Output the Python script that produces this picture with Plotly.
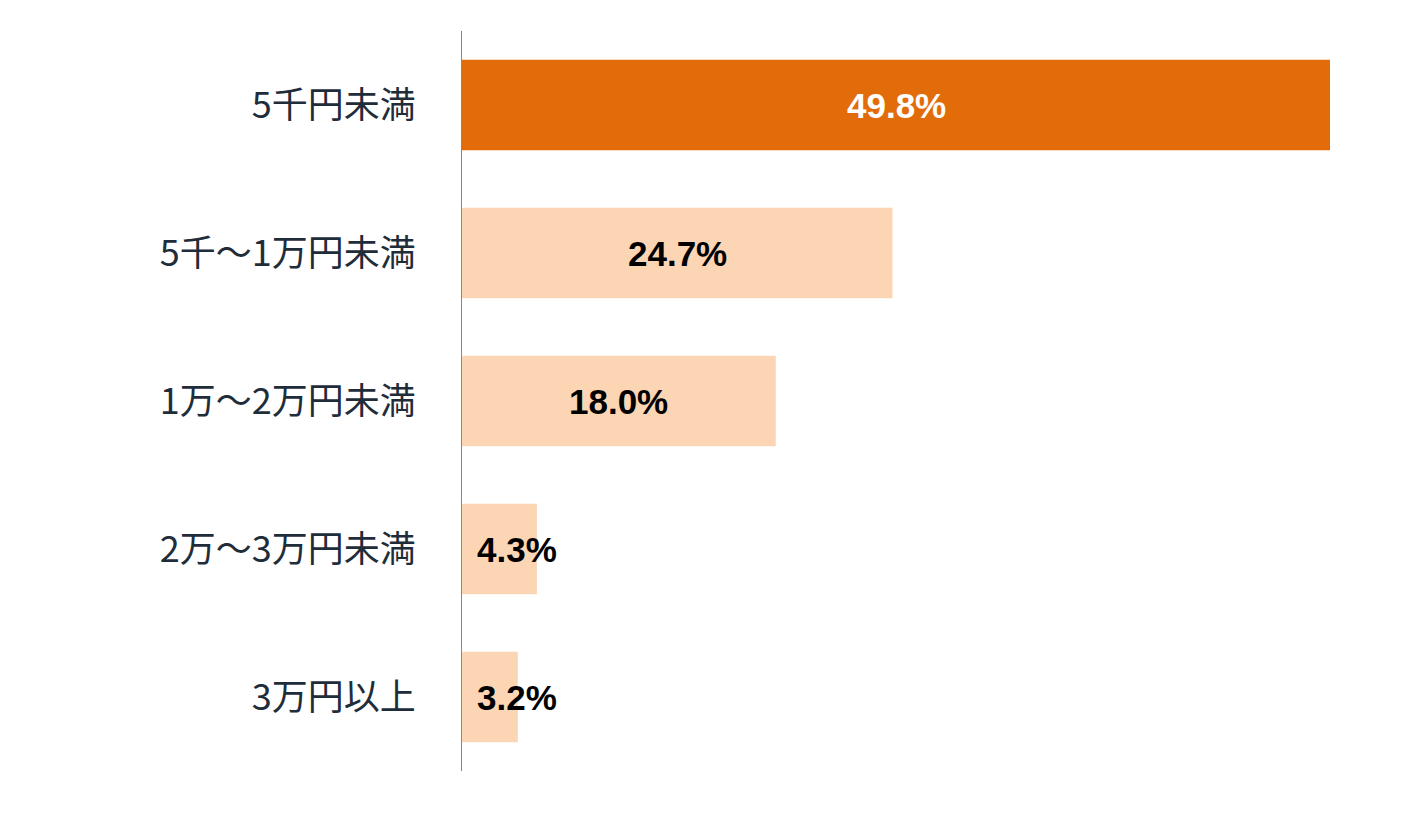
import plotly.graph_objects as go

categories = ["5千円未満", "5千～1万円未満", "1万～2万円未満", "2万～3万円未満", "3万円以上"]
values = [49.8, 24.7, 18.0, 4.3, 3.2]
labels = ["49.8%", "24.7%", "18.0%", "4.3%", "3.2%"]
colors = ["#E36C0A", "#FCD5B5", "#FCD5B5", "#FCD5B5", "#FCD5B5"]
text_colors = ["white", "black", "black", "black", "black"]

fig = go.Figure(go.Bar(
    y=categories, x=values, orientation="h",
    marker=dict(color=colors, line=dict(width=0)),
    width=0.61, hoverinfo="skip",
))

for cat, v, lab, tc in zip(categories, values, labels, text_colors):
    fig.add_annotation(
        x=max(v / 2, 3.15), y=cat, text=lab, showarrow=False,
        font=dict(family="Liberation Sans", size=35, color=tc, weight="bold"),
    )

fig.update_layout(
    width=1408, height=814,
    margin=dict(l=454, r=86, t=23, b=51),
    plot_bgcolor="white", paper_bgcolor="white",
    showlegend=False,
    xaxis=dict(range=[0, 49.8], visible=False),
    yaxis=dict(
        autorange="reversed", showline=True, linecolor="#888888", linewidth=1,
        ticks="", ticklabelstandoff=38, showgrid=False,
        tickfont=dict(family="Noto Sans CJK JP", size=36, color="#1F2D3A"),
    ),
)

fig.write_html("out.html")
